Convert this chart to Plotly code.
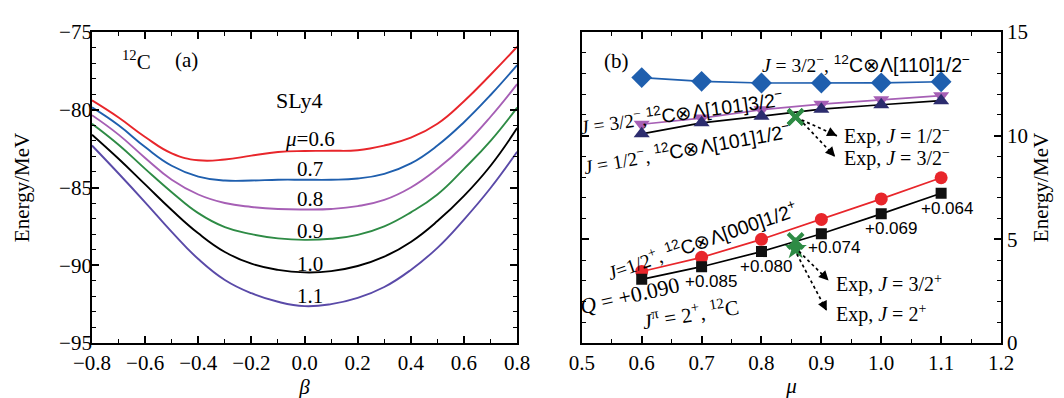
import plotly.graph_objects as go

# ---------------- data: panel (a) ----------------
beta = [-0.8, -0.7, -0.6, -0.5, -0.4, -0.3, -0.2, -0.1, 0.0, 0.1, 0.2, 0.3, 0.4, 0.5, 0.6, 0.7, 0.8]
E_mu06 = [-79.4, -80.5, -81.75, -82.8, -83.25, -83.2, -82.95, -82.72, -82.65, -82.64, -82.6, -82.3, -81.8, -80.9, -79.45, -77.75, -75.95]
E_mu07 = [-79.85, -81.0, -82.4, -83.6, -84.3, -84.55, -84.55, -84.5, -84.5, -84.5, -84.42, -84.12, -83.45, -82.3, -80.8, -79.05, -77.13]
E_mu08 = [-80.35, -81.6, -83.1, -84.5, -85.45, -86.0, -86.25, -86.38, -86.41, -86.38, -86.2, -85.8, -85.0, -83.8, -82.3, -80.45, -78.35]
E_mu09 = [-80.9, -82.25, -83.8, -85.3, -86.65, -87.55, -88.0, -88.27, -88.37, -88.3, -88.05, -87.5, -86.6, -85.45, -83.8, -82.0, -79.86]
E_mu10 = [-81.6, -83.15, -84.8, -86.45, -87.95, -89.15, -89.9, -90.3, -90.46, -90.38, -90.05, -89.45, -88.5, -87.16, -85.54, -83.6, -81.18]
E_mu11 = [-82.3, -84.1, -85.95, -87.85, -89.6, -90.95, -91.8, -92.35, -92.63, -92.5, -92.1, -91.4, -90.3, -88.88, -87.06, -85.03, -82.7]
curve_labels = ["<i>μ</i>=0.6", "0.7", "0.8", "0.9", "1.0", "1.1"]
curve_colors = ["#e8262b", "#1f5fae", "#a65fb5", "#2e8b45", "#000000", "#5a4aa8"]
label_E = [-81.87, -83.81, -85.74, -87.77, -89.9, -92.0]

# ---------------- data: panel (b) ----------------
mu = [0.6, 0.7, 0.8, 0.9, 1.0, 1.1]
E_110_12m = [12.80, 12.62, 12.54, 12.54, 12.55, 12.60]
E_101_32m = [10.55, 10.85, 11.25, 11.52, 11.73, 11.93]
E_101_12m = [10.09, 10.62, 10.94, 11.28, 11.49, 11.69]
E_000_12p = [3.45, 4.13, 5.00, 5.96, 6.95, 7.97]
E_C12_2p = [3.07, 3.68, 4.41, 5.27, 6.23, 7.22]
Q_labels = ["+0.090", "+0.085", "+0.080", "+0.074", "+0.069", "+0.064"]
exp_mu = 0.857
exp_neg = [10.90, 10.90]
exp_32p = 4.92
exp_2p = 4.55

SERIF = "Liberation Serif"
SANS = "Liberation Sans"

fig = go.Figure()

Es = [E_mu06, E_mu07, E_mu08, E_mu09, E_mu10, E_mu11]
for E, c in zip(Es, curve_colors):
    fig.add_trace(go.Scatter(x=beta, y=E, mode="lines", line=dict(color=c, width=1.9, shape="spline", smoothing=1.3),
                             xaxis="x", yaxis="y", showlegend=False, hoverinfo="skip"))

def line_trace(y, symbol, msize, mcolor, lcolor):
    return go.Scatter(x=mu, y=y, mode="lines+markers", xaxis="x2", yaxis="y2", showlegend=False,
                      line=dict(color=lcolor, width=1.7),
                      marker=dict(symbol=symbol, size=msize, color=mcolor, line=dict(width=0)))

fig.add_trace(line_trace(E_110_12m, "diamond", 16, "#1f5fae", "#1f5fae"))
fig.add_trace(line_trace(E_101_32m, "triangle-down", 14, "#a65fb5", "#a65fb5"))
fig.add_trace(line_trace(E_101_12m, "triangle-up", 14, "#2c2c6e", "#000000"))
fig.add_trace(line_trace(E_000_12p, "circle", 13, "#e8262b", "#e8262b"))
fig.add_trace(line_trace(E_C12_2p, "square", 11, "#111111", "#000000"))

# experimental points
fig.add_trace(go.Scatter(x=[exp_mu, exp_mu], y=exp_neg, mode="markers", xaxis="x2", yaxis="y2", showlegend=False,
                         marker=dict(symbol="x-thin", size=15, line=dict(color="#2e8b45", width=4))))
fig.add_trace(go.Scatter(x=[exp_mu], y=[exp_2p], mode="markers", xaxis="x2", yaxis="y2", showlegend=False,
                         marker=dict(symbol="star", size=17, color="#2e8b45", line=dict(width=0))))
fig.add_trace(go.Scatter(x=[exp_mu], y=[exp_32p], mode="markers", xaxis="x2", yaxis="y2", showlegend=False,
                         marker=dict(symbol="x-thin", size=15, line=dict(color="#2e8b45", width=4))))

ann = []
def txt(x, y, text, ax="x", size=20, family=SERIF, angle=0, xanchor="center", yanchor="middle"):
    ya = "y" if ax == "x" else "y2"
    ann.append(dict(x=x, y=y, xref=ax, yref=ya, text=text, showarrow=False, textangle=angle,
                    font=dict(family=family, size=size, color="black"), xanchor=xanchor, yanchor=yanchor))

# panel (a) texts
txt(-0.631, -76.82, "<sup>12</sup>C", size=21)
txt(-0.444, -76.82, "(a)", size=21)
txt(-0.02, -79.38, "SLy4", size=22)
for lab, e in zip(curve_labels, label_E):
    txt(0.02, e, lab, size=21)

# panel (b) texts
sans = lambda s: "<span style='font-family:%s'>%s</span>" % (SANS, s)
txt(0.558, 13.59, "(b)", ax="x2", size=21)
txt(0.975, 13.45, "<i>J</i> = 3/2<sup>−</sup>, " + sans("<sup>12</sup>C⊗Λ[110]1/2<sup>−</sup>"), ax="x2", size=19.5)
txt(0.666, 11.13, "<i>J</i> = 3/2<sup>−</sup>," + sans("<sup>12</sup>C⊗Λ[101]3/2<sup>−</sup>"), ax="x2", size=19.5, angle=-8)
txt(0.675, 9.39, "<i>J</i> = 1/2<sup>−</sup>, " + sans("<sup>12</sup>C⊗Λ[101]1/2<sup>−</sup>"), ax="x2", size=19.5, angle=-10)
txt(0.701, 4.97, "<i>J</i>=1/2<sup>+</sup>, " + sans("<sup>12</sup>C⊗Λ[000]1/2<sup>+</sup>"), ax="x2", size=19.5, angle=-19)
txt(0.580, 2.30, "<i>Q</i> = +0.090", ax="x2", size=22, angle=-13)
txt(0.681, 1.41, "<i>J</i><sup>π</sup> = 2<sup>+</sup>, <sup>12</sup>C", ax="x2", size=21, angle=-9)
q_pos = [(0.716, 2.95), (0.808, 3.69), (0.921, 4.61), (1.017, 5.52), (1.110, 6.48)]
for lab, (qx, qy) in zip(Q_labels[1:], q_pos):
    txt(qx, qy, lab, ax="x2", size=17, family=SANS)
txt(0.934, 9.99, "Exp, <i>J</i> = 1/2<sup>−</sup>", ax="x2", size=20, xanchor="left")
txt(0.934, 8.94, "Exp, <i>J</i> = 3/2<sup>−</sup>", ax="x2", size=20, xanchor="left")
txt(0.921, 2.87, "Exp, <i>J</i> = 3/2<sup>+</sup>", ax="x2", size=20, xanchor="left")
txt(0.921, 1.41, "Exp, <i>J</i> = 2<sup>+</sup>", ax="x2", size=20, xanchor="left")

# dotted arrows
shapes = []
arrows = [((0.867, 10.76), (0.926, 9.99)), ((0.870, 10.60), (0.923, 8.98)),
          ((0.8625, 4.42), (0.912, 3.01)), ((0.859, 4.29), (0.909, 1.55))]
for (x0, y0), (x1, y1) in arrows:
    shapes.append(dict(type="line", xref="x2", yref="y2", x0=x0, y0=y0, x1=x1, y1=y1,
                       line=dict(color="black", width=1.7, dash="dot")))
    dx = (x1 - x0) * 601.4
    dy = -(y1 - y0) * 21.93
    L = (dx ** 2 + dy ** 2) ** 0.5
    ann.append(dict(x=x1, y=y1, xref="x2", yref="y2", ax=-dx / L * 8, ay=-dy / L * 8, axref="pixel", ayref="pixel",
                    showarrow=True, arrowhead=2, arrowsize=1.3, arrowwidth=1.5, arrowcolor="black", text=""))

axis_common = dict(showline=True, linecolor="black", linewidth=1.8, mirror="ticks", ticks="inside",
                   ticklen=7, tickwidth=1.5, tickcolor="black", showgrid=False, zeroline=False,
                   tickfont=dict(family=SERIF, size=21, color="black"))
minor_common = dict(ticks="inside", ticklen=4, tickwidth=1.3, tickcolor="black", showgrid=False)
title_font = dict(family=SERIF, size=21, color="black")

W, H = 1064, 398
L_, R_, T_, B_ = 80, 71, 15, 54
pw = W - L_ - R_
d1 = [0, (507 - 80) / pw]
d2 = [(572 - 80) / pw, 1]

fig.update_layout(
    width=W, height=H, margin=dict(l=L_, r=R_, t=T_, b=B_),
    paper_bgcolor="white", plot_bgcolor="white",
    font=dict(family=SERIF, color="black"),
    annotations=ann, shapes=shapes,
    xaxis=dict(domain=d1, range=[-0.8, 0.8], dtick=0.2, tick0=-0.8, tickformat=".1f",
               minor=dict(dtick=0.1, **minor_common), anchor="y",
               title=dict(text="<i>β</i>", font=title_font, standoff=4), **axis_common),
    yaxis=dict(domain=[0, 1], range=[-95, -75], dtick=5, tick0=-95, ticklabelstandoff=-6,
               minor=dict(dtick=1, **minor_common), anchor="x",
               title=dict(text="Energy/MeV", font=title_font, standoff=24), **axis_common),
    xaxis2=dict(domain=d2, range=[0.5, 1.2], dtick=0.1, tick0=0.5, tickformat=".1f",
                minor=dict(dtick=0.05, **minor_common), anchor="y2",
                title=dict(text="<i>μ</i>", font=title_font, standoff=4), **axis_common),
    yaxis2=dict(domain=[0, 1], range=[0, 15], dtick=5, tick0=0, side="right",
                minor=dict(dtick=1, **minor_common), anchor="x2",
                title=dict(text="Energy/MeV", font=title_font, standoff=6), **axis_common),
)

fig.write_html("out.html")
